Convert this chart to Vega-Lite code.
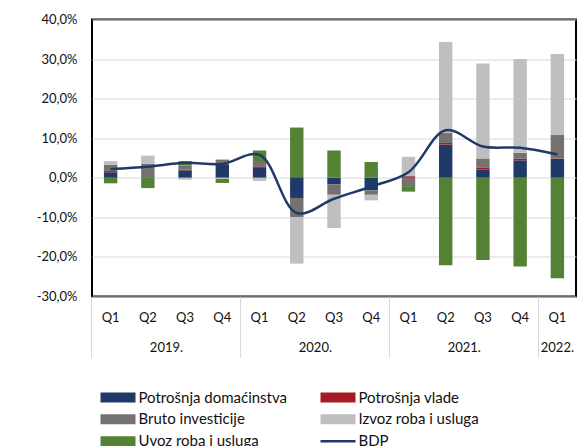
{
  "$schema": "https://vega.github.io/schema/vega-lite/v6.json",
  "width": 484,
  "height": 277,
  "autosize": {"type": "none"},
  "padding": {"left": 92, "top": 19.5, "right": 2, "bottom": 149.5},
  "config": {
    "font": "Lato",
    "view": {"stroke": "#000", "strokeWidth": 2}
  },
  "data": {
    "values": [
      {"period": "2019 Q1", "Potrošnja domaćinstva": 1.4, "Potrošnja vlade": 0.3, "Bruto investicije": 1.6, "Izvoz roba i usluga": 0.9, "Uvoz roba i usluga": -1.4, "BDP": 2.2},
      {"period": "2019 Q2", "Potrošnja domaćinstva": 0.1, "Potrošnja vlade": 0.1, "Bruto investicije": 3.3, "Izvoz roba i usluga": 2.1, "Uvoz roba i usluga": -2.6, "BDP": 2.8},
      {"period": "2019 Q3", "Potrošnja domaćinstva": 1.9, "Potrošnja vlade": 0.2, "Bruto investicije": 1.0, "Izvoz roba i usluga": -0.5, "Uvoz roba i usluga": 1.1, "BDP": 3.8},
      {"period": "2019 Q4", "Potrošnja domaćinstva": 3.4, "Potrošnja vlade": 0.1, "Bruto investicije": 1.1, "Izvoz roba i usluga": -0.3, "Uvoz roba i usluga": -1.0, "BDP": 3.5},
      {"period": "2020 Q1", "Potrošnja domaćinstva": 2.5, "Potrošnja vlade": 0.4, "Bruto investicije": 1.1, "Izvoz roba i usluga": -0.8, "Uvoz roba i usluga": 2.9, "BDP": 5.8},
      {"period": "2020 Q2", "Potrošnja domaćinstva": -5.1, "Potrošnja vlade": 0.2, "Bruto investicije": -4.9, "Izvoz roba i usluga": -11.7, "Uvoz roba i usluga": 12.5, "BDP": -8.9},
      {"period": "2020 Q3", "Potrošnja domaćinstva": -1.7, "Potrošnja vlade": 0.1, "Bruto investicije": -2.6, "Izvoz roba i usluga": -8.4, "Uvoz roba i usluga": 6.8, "BDP": -5.3},
      {"period": "2020 Q4", "Potrošnja domaćinstva": -3.2, "Potrošnja vlade": 0.1, "Bruto investicije": -1.1, "Izvoz roba i usluga": -1.4, "Uvoz roba i usluga": 3.9, "BDP": -2.2},
      {"period": "2021 Q1", "Potrošnja domaćinstva": 0.2, "Potrošnja vlade": 0.2, "Bruto investicije": -2.1, "Izvoz roba i usluga": 4.9, "Uvoz roba i usluga": -1.4, "BDP": 1.4},
      {"period": "2021 Q2", "Potrošnja domaćinstva": 8.4, "Potrošnja vlade": 0.4, "Bruto investicije": 2.5, "Izvoz roba i usluga": 23.0, "Uvoz roba i usluga": -22.1, "BDP": 12.0},
      {"period": "2021 Q3", "Potrošnja domaćinstva": 2.1, "Potrošnja vlade": 0.4, "Bruto investicije": 2.4, "Izvoz roba i usluga": 24.0, "Uvoz roba i usluga": -20.8, "BDP": 7.9},
      {"period": "2021 Q4", "Potrošnja domaćinstva": 4.4, "Potrošnja vlade": 0.4, "Bruto investicije": 1.5, "Izvoz roba i usluga": 23.7, "Uvoz roba i usluga": -22.4, "BDP": 7.6},
      {"period": "2022 Q1", "Potrošnja domaćinstva": 4.8, "Potrošnja vlade": 0.1, "Bruto investicije": 5.9, "Izvoz roba i usluga": 20.5, "Uvoz roba i usluga": -25.4, "BDP": 5.9}
    ]
  },
  "encoding": {
    "y": {
      "field": "value",
      "type": "quantitative",
      "scale": {"domain": [-30, 40], "nice": false},
      "axis": {
        "values": [-30, -20, -10, 0, 10, 20, 30, 40],
        "title": null,
        "grid": true,
        "gridColor": "#d9d9d9",
        "gridWidth": 1,
        "domain": false,
        "ticks": false,
        "labelPadding": 15,
        "labelFont": "Lato",
        "labelFontSize": 13,
        "labelColor": "#111",
        "labelExpr": "replace(replace(format(datum.value, '.1f'), '.', ','), '\u2212', '-') + '%'"
      }
    },
    "color": {
      "field": "component",
      "type": "nominal",
      "scale": {
        "domain": ["Potrošnja domaćinstva", "Potrošnja vlade", "Bruto investicije", "Izvoz roba i usluga", "Uvoz roba i usluga", "BDP"],
        "range": ["#1f3a68", "#a51c22", "#767171", "#bfbfbf", "#548235", "#1f3a68"]
      },
      "legend": {
        "orient": "none",
        "legendX": 18.5,
        "legendY": 370.3,
        "direction": "horizontal",
        "title": null,
        "columns": 2,
        "symbolSize": 100,
        "symbolType": "M-3.5,-1H3.5V1H-3.5Z",
        "labelFont": "Lato",
        "labelFontSize": 15,
        "labelColor": "#111",
        "labelOffset": 13,
        "labelLimit": 0,
        "rowPadding": 6,
        "columnPadding": 33,
        "padding": 0,
        "encode": {
          "symbols": {
            "update": {
              "shape": {"signal": "datum.value === 'BDP' ? 'M-3.5,-0.25H3.5V0.25H-3.5Z' : 'M-3.5,-1H3.5V1H-3.5Z'"},
              "fill": {"signal": "scale('color', datum.value)"},
              "stroke": {"value": "transparent"},
              "strokeWidth": {"value": 0},
              "opacity": {"value": 1}
            }
          }
        }
      }
    }
  },
  "layer": [
    {
      "transform": [
        {"fold": ["Potrošnja domaćinstva", "Potrošnja vlade", "Bruto investicije", "Izvoz roba i usluga", "Uvoz roba i usluga"], "as": ["component", "value"]},
        {"calculate": "indexof(['Potrošnja domaćinstva', 'Potrošnja vlade', 'Bruto investicije', 'Izvoz roba i usluga', 'Uvoz roba i usluga'], datum.component)", "as": "ord"}
      ],
      "mark": {"type": "bar", "width": {"band": 0.36}},
      "encoding": {
        "x": {
          "field": "period",
          "type": "nominal",
          "sort": null,
          "scale": {"paddingInner": 0, "paddingOuter": 0},
          "axis": {
            "orient": "bottom",
            "title": null,
            "domain": false,
            "ticks": false,
            "tickSize": 0,
            "labelAngle": 0,
            "labelPadding": 15,
            "labelFont": "Lato",
            "labelFontSize": 13,
            "labelColor": "#111",
            "labelExpr": "split(datum.value, ' ')[1]"
          }
        },
        "order": {"field": "ord", "type": "quantitative"}
      }
    },
    {
      "transform": [
        {"fold": ["BDP"], "as": ["component", "value"]}
      ],
      "mark": {"type": "line", "interpolate": "catmull-rom", "strokeWidth": 2.5},
      "encoding": {
        "x": {
          "field": "period",
          "type": "nominal",
          "sort": null,
          "bandPosition": 0.5,
          "axis": {
            "orient": "bottom",
            "title": null,
            "domain": false,
            "ticks": true,
            "bandPosition": 0,
            "tickSize": 61,
            "tickColor": "#d9d9d9",
            "tickWidth": 1,
            "tickOpacity": {"condition": {"test": "indexof('' + datum.value, 'Q1') >= 0", "value": 1}, "value": 0},
            "labelAngle": 0,
            "labelPadding": -16,
            "labelFont": "Lato",
            "labelFontSize": 13,
            "labelColor": "#111",
            "labelOverlap": false,
            "labelOffset": {"condition": {"test": "datum.value === '2022 Q1'", "value": 0}, "value": -18.6},
            "labelExpr": "(indexof(datum.value, 'Q3') >= 0 || datum.value === '2022 Q1') ? slice(datum.value, 0, 4) + '.' : ''"
          }
        }
      }
    }
  ],
  "resolve": {"axis": {"x": "independent"}}
}
